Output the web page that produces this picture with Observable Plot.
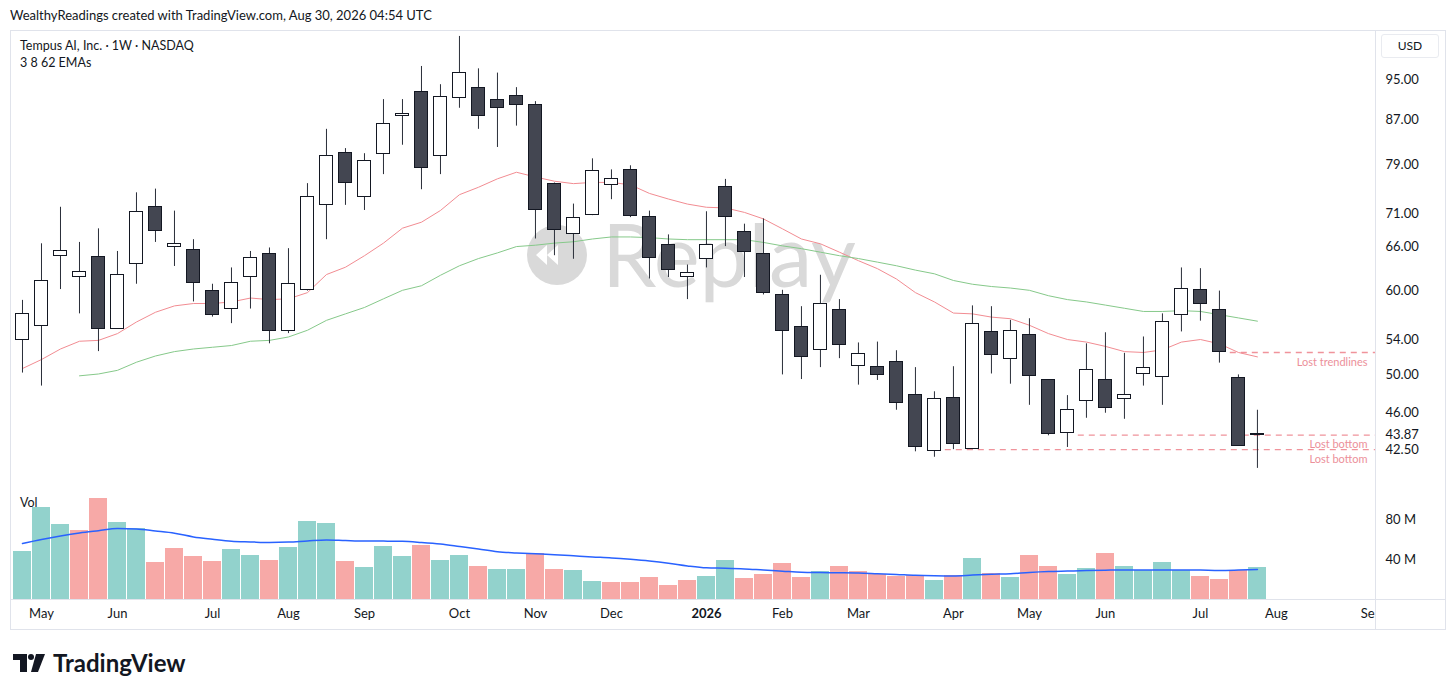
<!DOCTYPE html>
<html><head><meta charset="utf-8">
<script src="https://cdn.jsdelivr.net/npm/d3@7"></script>
<script src="https://cdn.jsdelivr.net/npm/@observablehq/plot@0.6"></script>
<style>
html,body{margin:0;padding:0;background:#fff}
body{width:1456px;height:694px;overflow:hidden;position:relative;font-family:Lato,"Noto Sans",sans-serif;color:#131722}
.abs{position:absolute}
#price,#vol{position:absolute;left:10px;z-index:1}
#price{top:31px}
#vol{top:485px}
</style></head><body>
<svg class="abs" style="left:0;top:0;z-index:0" width="1456" height="694">
  <circle cx="557" cy="255" r="30" fill="#d9d9d9"/>
  <path d="M536 255 L547 245 L547 265 Z M547 255 L558 245 L558 265 Z" fill="#fff"/>
  <text x="602" y="287" font-family="Lato, sans-serif" font-size="87" fill="#d9d9d9">Replay</text>
</svg>
<div class="abs" style="left:10px;top:7px;font-size:13px">WealthyReadings created with TradingView.com, Aug 30, 2026 04:54 UTC</div>
<div class="abs" style="left:10px;top:30px;width:1436px;height:600px;box-sizing:border-box;border:1px solid #e0e3eb"></div>
<div class="abs" style="left:20px;top:38px;font-size:12.5px;z-index:3">Tempus AI, Inc. · 1W · NASDAQ</div>
<div class="abs" style="left:20px;top:55px;font-size:12.5px;z-index:3">3 8 62 EMAs</div>
<div class="abs" style="left:20px;top:495px;font-size:12.5px;z-index:3">Vol</div>
<div id="price"></div>
<div id="vol"></div>
<div class="abs" style="left:1376px;top:600px;width:69px;height:28px;background:#fff;z-index:2"></div>
<div class="abs" style="left:1375px;top:30px;width:1px;height:600px;background:#e0e3eb;z-index:3"></div>
<div class="abs" style="left:10px;top:599px;width:1436px;height:1px;background:#e0e3eb;z-index:3"></div>
<div class="abs" style="left:1381px;top:34px;width:58px;height:24px;box-sizing:border-box;border:1px solid #e9ebf0;border-radius:3px;font-size:12px;line-height:22px;text-align:center;z-index:3">USD</div>
<svg class="abs" style="left:0;top:640px" width="260" height="50">
  <path d="M13 14 H27 V32 H20 V20 H13 Z" fill="#131722"/>
  <circle cx="31" cy="17" r="3" fill="#131722"/>
  <path d="M36 14 H45 L38 32 H31 Z" fill="#131722"/>
  <text x="53" y="32" font-family="Lato, sans-serif" font-weight="700" font-size="24" fill="#131722">TradingView</text>
</svg>
<script>
const dates = ["2025-04-28","2025-05-05","2025-05-12","2025-05-19","2025-05-26","2025-06-02","2025-06-09","2025-06-16","2025-06-23","2025-06-30",
"2025-07-07","2025-07-14","2025-07-21","2025-07-28","2025-08-04","2025-08-11","2025-08-18","2025-08-25","2025-09-01","2025-09-08",
"2025-09-15","2025-09-22","2025-09-29","2025-10-06","2025-10-13","2025-10-20","2025-10-27","2025-11-03","2025-11-10","2025-11-17",
"2025-11-24","2025-12-01","2025-12-08","2025-12-15","2025-12-22","2025-12-29","2026-01-05","2026-01-12","2026-01-19","2026-01-26",
"2026-02-02","2026-02-09","2026-02-16","2026-02-23","2026-03-02","2026-03-09","2026-03-16","2026-03-23","2026-03-30","2026-04-06",
"2026-04-13","2026-04-20","2026-04-27","2026-05-04","2026-05-11","2026-05-18","2026-05-25","2026-06-01","2026-06-08","2026-06-15",
"2026-06-22","2026-06-29","2026-07-06","2026-07-13","2026-07-20","2026-07-27"];
const open = [54.0,55.6,64.8,61.9,64.6,55.3,63.7,72.1,66.1,65.6, 60.0,57.7,61.9,65.1,55.0,60.1,72.4,81.0,73.7,80.9,
  87.8,92.6,80.5,91.4,93.4,91.0,91.8,90.0,75.8,68.0, 70.8,75.6,78.0,70.5,66.3,61.9,64.3,75.3,68.3,65.0,
  59.5,55.5,52.8,57.6,51.0,50.9,51.4,47.9,42.4,47.6, 42.6,54.9,51.8,54.5,49.4,44.1,47.2,49.5,47.4,50.1, 49.8,56.9,60.1,57.6,49.7,43.95];
const high = [58.8,66.5,72.0,66.7,68.7,65.4,74.3,74.9,71.4,67.1, 60.9,63.1,65.4,65.9,65.8,75.8,85.3,81.8,80.9,91.0,
  91.0,97.8,94.0,104.4,97.3,96.4,93.4,90.6,75.9,72.5, 80.0,78.1,78.8,71.4,67.8,63.5,71.3,76.5,69.4,70.2,
  60.1,58.0,62.1,58.9,53.6,53.7,52.7,50.8,48.2,50.9, 58.1,58.0,56.3,56.5,49.5,47.8,53.5,54.8,52.4,54.3, 57.1,63.1,63.0,60.0,50.0,46.3];
const low = [50.2,48.8,60.2,57.1,52.6,55.2,60.9,66.7,63.3,58.6, 56.7,55.9,57.7,53.5,54.7,60.0,67.1,72.3,71.5,77.3,
  82.4,74.8,77.3,89.3,85.3,82.0,85.9,67.2,64.8,64.3, 70.7,73.2,70.4,61.6,61.8,58.9,63.1,66.1,61.8,59.5,
  50.0,49.5,50.8,51.8,48.9,49.4,46.3,42.3,41.8,42.5, 42.5,50.1,49.0,46.8,43.8,42.7,45.5,46.0,45.4,48.8, 46.8,54.9,56.2,51.3,42.8,40.8];
const close = [57.1,61.3,65.5,62.5,55.3,62.1,71.3,68.4,66.5,61.0, 57.0,61.0,64.5,55.0,60.9,73.7,80.5,75.9,79.7,86.3,
  88.2,78.5,91.6,96.5,87.8,89.3,90.0,71.6,68.5,70.3, 77.9,76.6,70.7,64.5,62.8,62.4,66.3,70.5,65.3,59.8,
  55.0,52.0,58.4,53.4,52.3,50.0,47.0,42.7,47.4,43.0, 55.9,52.2,55.0,49.9,44.0,46.3,50.5,46.5,47.9,50.8, 56.1,60.3,58.4,52.5,42.8,43.87];
const volume = [48.3,91.6,75.0,69.3,101.0,77.3,71.3,36.6,51.0,43.0, 38.3,50.3,44.3,39.3,52.0,78.0,76.3,37.6,32.3,53.0,
  43.0,53.6,38.6,44.3,32.6,30.3,30.3,46.0,29.6,29.0, 17.6,16.6,16.6,22.3,13.6,19.3,23.3,39.3,20.6,25.3,
  36.3,21.6,27.6,33.3,27.6,25.0,22.6,23.6,19.3,23.6, 40.6,26.0,21.6,44.0,33.3,25.3,31.3,46.3,32.6,28.6, 37.3,29.3,23.3,20.3,29.3,31.6];
const emaRed = [50.7,51.7,52.9,53.8,53.9,54.7,56.1,57.3,58.1,58.4, 58.4,58.6,59.1,58.9,59.0,59.8,62.2,63.2,64.8,66.6,
  68.8,69.7,71.5,74.0,75.2,76.6,77.7,76.9,76.2,75.8, 76.0,76.0,75.6,74.2,73.3,72.5,72.0,71.9,71.2,70.2,
  68.7,67.2,66.5,65.3,64.1,63.0,61.6,59.8,58.6,57.2, 57.1,56.7,56.5,55.7,54.7,54.0,53.7,53.2,52.6,52.5, 52.8,53.7,54.0,53.5,52.5,52.0];
const emaGreen = [null,null,null,49.9,50.1,50.5,51.4,52.1,52.6,52.9, 53.1,53.3,53.8,53.9,54.3,55.1,56.3,57.1,57.9,59.0,
  60.1,60.7,62.1,63.4,64.4,65.2,66.1,66.3,66.6,66.8, 67.2,67.5,67.5,67.4,67.2,67.1,67.1,67.1,67.1,66.7,
  66.2,65.8,65.3,64.8,64.4,63.9,63.4,62.8,62.3,61.4, 60.9,60.6,60.4,60.1,59.4,58.9,58.6,58.2,57.8,57.4, 57.4,57.5,57.4,57.0,56.6,56.2];
const volMA = [56.0,60.0,63.5,66.5,68.8,71.0,70.5,68.5,66.3,62.6, 60.3,58.3,57.6,57.0,57.4,58.6,59.6,59.0,58.5,58.4,
  58.2,57.0,55.4,53.0,50.5,47.8,46.6,45.7,44.8,43.7, 42.6,41.6,40.2,38.5,36.3,33.6,31.7,31.3,30.6,29.4,
  28.3,27.2,26.9,26.7,26.4,25.7,25.0,24.2,23.8,23.6, 24.4,25.2,25.8,27.0,27.9,28.4,28.9,29.3,29.6,29.6, 29.6,29.6,29.4,29.0,29.4,30.0];
const priceTicks = [95, 87, 79, 71, 66, 60, 54, 50, 46, 43.87, 42.5];
const volTicks = [40, 80];
const monthTickDates = ["2025-05-05","2025-06-02","2025-07-07","2025-08-04","2025-09-01","2025-10-06","2025-11-03","2025-12-01",
  "2026-01-05","2026-02-02","2026-03-02","2026-04-06","2026-05-04","2026-06-01","2026-07-06","2026-08-03","2026-09-07"];
const monthTickLabels = ["May","Jun","Jul","Aug","Sep","Oct","Nov","Dec","2026","Feb","Mar","Apr","May","Jun","Jul","Aug","Sep"];
const levelPrices = [52.5, 43.87, 42.5];
const levelStarts = ["2026-07-17","2026-05-22","2026-04-03"];
const levelLabels = ["Lost trendlines","Lost bottom","Lost bottom"];

const xDomain = [new Date("2025-04-23T14:00:00Z"), new Date("2026-09-08T12:00:00Z")];
const hrs = (d, h) => new Date(+d + h * 3600e3);
const candles = dates.map((d, i) => ({
  date: new Date(d), open: open[i], high: high[i], low: low[i], close: close[i], vol: volume[i],
  up: close[i] >= open[i], volUp: i === 0 ? close[i] >= open[i] : close[i] >= close[i - 1]
}));
const redData = dates.map((d, i) => ({date: new Date(d), v: emaRed[i]}));
const greenData = dates.map((d, i) => ({date: new Date(d), v: emaGreen[i]})).filter(d => d.v != null);
const maData = dates.map((d, i) => ({date: new Date(d), v: volMA[i]}));
const levels = levelPrices.map((p, i) => ({price: p, start: new Date(levelStarts[i]), label: levelLabels[i]}));
const labelMap = new Map(monthTickDates.map((d, i) => [+new Date(d), monthTickLabels[i]]));
const baseStyle = {background: "transparent", fontFamily: "Lato, sans-serif", fontSize: "13px", color: "#131722", overflow: "visible"};

const price = Plot.plot({
  width: 1436, height: 454, marginTop: 0, marginBottom: 0, marginLeft: 0, marginRight: 71,
  style: baseStyle,
  x: {type: "utc", domain: xDomain, axis: null},
  y: {type: "log", domain: [39.31, 105.53]},
  marks: [
    Plot.ruleY(levels, {y: "price", x1: "start", x2: () => xDomain[1], stroke: "#f0939b", strokeWidth: 1.3, strokeDasharray: "6,5"}),
    Plot.text(levels, {x: () => xDomain[1], y: "price", text: "label", textAnchor: "end", dx: -8, dy: 9.5, fill: "#ec909a", fontSize: 11}),
    Plot.line(redData, {x: "date", y: "v", stroke: "#f28c92", strokeWidth: 1}),
    Plot.line(greenData, {x: "date", y: "v", stroke: "#86c98a", strokeWidth: 1}),
    Plot.ruleX(candles, {x: "date", y1: "low", y2: "high", stroke: "#2a2e39", strokeWidth: 1}),
    Plot.rect(candles, {x1: d => hrs(d.date, -60), x2: d => hrs(d.date, 60), y1: "open", y2: "close",
      fill: d => d.up ? "#ffffff" : "#434651", stroke: "#131722", strokeWidth: 1, shapeRendering: "crispEdges"}),
    Plot.axisY({anchor: "right", ticks: priceTicks, tickFormat: d => d.toFixed(2), tickSize: 0, tickPadding: 10})
  ]
});
document.getElementById("price").append(price);

const vol = Plot.plot({
  width: 1436, height: 145, marginTop: 0, marginBottom: 31, marginLeft: 0, marginRight: 71,
  style: baseStyle,
  x: {type: "utc", domain: xDomain},
  y: {domain: [0, 114]},
  marks: [
    Plot.rect(candles, {x1: d => hrs(d.date, -79), x2: d => hrs(d.date, 79), y1: 0, y2: "vol",
      fill: d => d.volUp ? "#92d2cc" : "#f7a9a7", shapeRendering: "crispEdges"}),
    Plot.line(maData, {x: "date", y: "v", stroke: "#2962ff", strokeWidth: 1.5, curve: "monotone-x"}),
    Plot.axisY({anchor: "right", ticks: volTicks, tickFormat: d => d + " M", tickSize: 0, tickPadding: 10}),
    Plot.axisX({ticks: monthTickDates.map(d => new Date(d)), tickFormat: d => labelMap.get(+d), tickSize: 0, tickPadding: 9})
  ]
});
document.getElementById("vol").append(vol);
vol.querySelectorAll("text").forEach(t => { if (t.textContent === "2026") t.setAttribute("font-weight", "bold"); });
</script>
</body></html>
